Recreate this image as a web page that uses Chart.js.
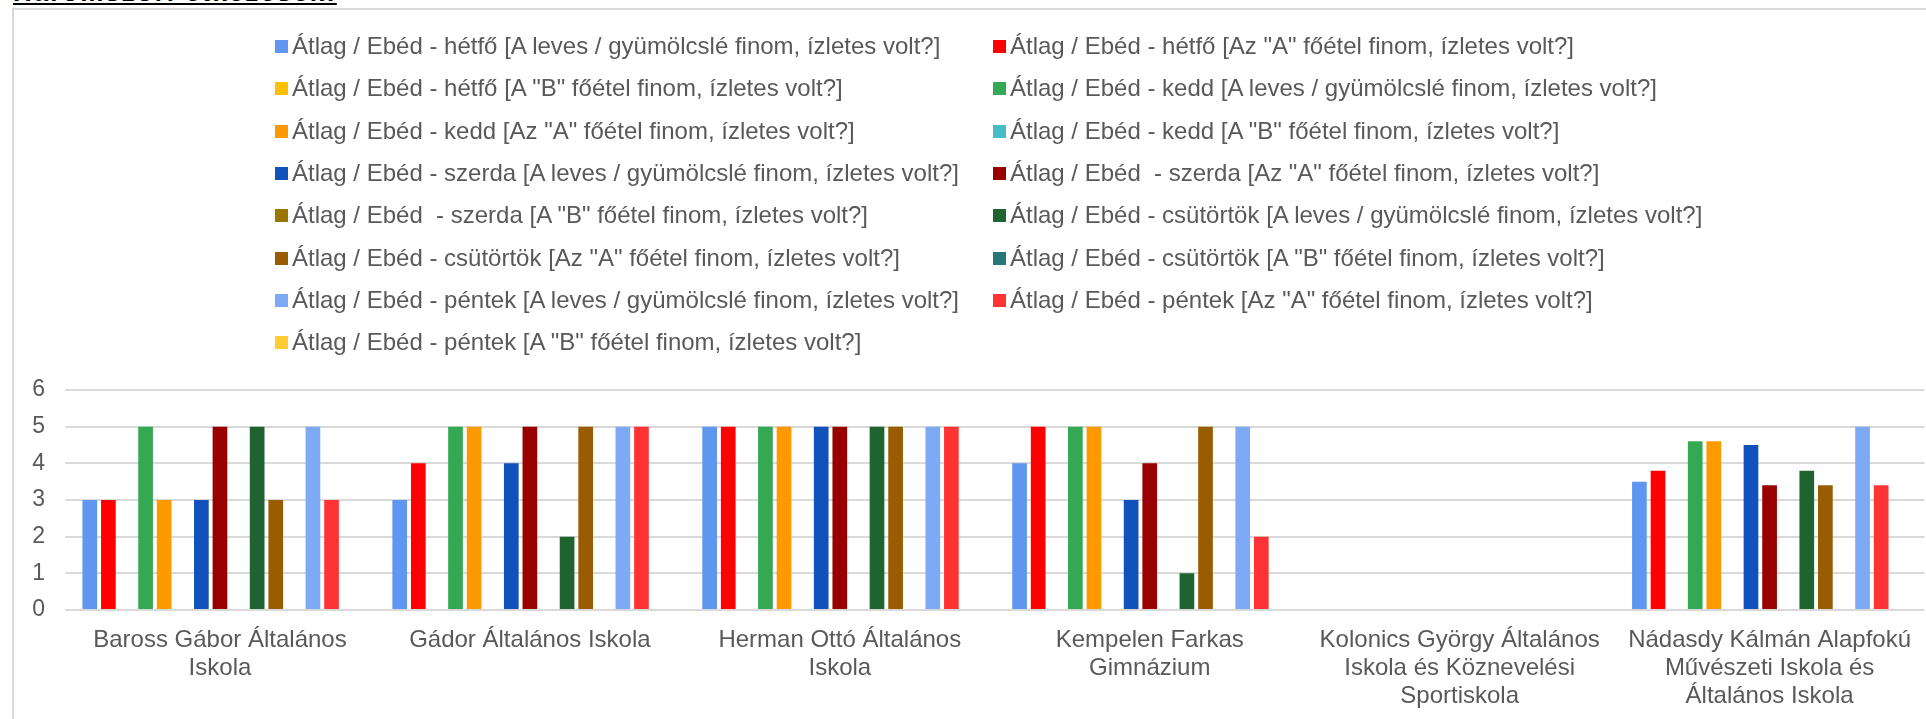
<!DOCTYPE html>
<html lang="hu">
<head>
<meta charset="utf-8">
<title>Átlag / Ebéd</title>
<script src="https://cdn.jsdelivr.net/npm/chart.js@4.4.1/dist/chart.umd.min.js"></script>
<style>
    html, body {
        margin: 0;
        padding: 0;
        width: 1926px;
        height: 719px;
        overflow: hidden;
        background: #fff;
        font-family: 'Liberation Sans', Arial, sans-serif;
    }
    #title {
        position: absolute;
        left: 13px;
        top: -23px;
        font-size: 26px;
        font-weight: bold;
        letter-spacing: 2px;
        text-decoration: underline;
        color: #000;
        white-space: nowrap;
    }
    #frame {
        position: absolute;
        left: 12px;
        top: 8px;
        width: 2000px;
        height: 800px;
        border-left: 2px solid #d9d9d9;
        border-top: 2px solid #d9d9d9;
    }
    #chartBox {
        position: absolute;
        left: 14px;
        top: 10px;
        width: 1914px;
        height: 700px;
    }
    #legend {
        position: absolute;
        left: 0;
        top: 0;
    }
    .legend-item {
        position: absolute;
        height: 30px;
        line-height: 30px;
        font-size: 24px;
        color: #595959;
        white-space: pre;
    }
    .legend-box {
        position: absolute;
        left: 0;
        top: 9px;
        width: 13px;
        height: 13px;
    }
    .legend-text {
        position: absolute;
        left: 17px;
        top: 0;
    }
</style>
</head>
<body>
<div id="title">Háromszori étkezések:</div>
<div id="frame"></div>
<div id="chartBox"><canvas id="myChart"></canvas></div>
<div id="legend"></div>

<script>
// schools (x axis)
const schools = [
    ['Baross Gábor Általános', 'Iskola'],
    ['Gádor Általános Iskola'],
    ['Herman Ottó Általános', 'Iskola'],
    ['Kempelen Farkas', 'Gimnázium'],
    ['Kolonics György Általános', 'Iskola és Köznevelési', 'Sportiskola'],
    ['Nádasdy Kálmán Alapfokú', 'Művészeti Iskola és', 'Általános Iskola']
];

const seriesNames = [
    'Átlag / Ebéd - hétfő [A leves / gyümölcslé finom, ízletes volt?]',
    'Átlag / Ebéd - hétfő [Az "A" főétel finom, ízletes volt?]',
    'Átlag / Ebéd - hétfő [A "B" főétel finom, ízletes volt?]',
    'Átlag / Ebéd - kedd [A leves / gyümölcslé finom, ízletes volt?]',
    'Átlag / Ebéd - kedd [Az "A" főétel finom, ízletes volt?]',
    'Átlag / Ebéd - kedd [A "B" főétel finom, ízletes volt?]',
    'Átlag / Ebéd - szerda [A leves / gyümölcslé finom, ízletes volt?]',
    'Átlag / Ebéd  - szerda [Az "A" főétel finom, ízletes volt?]',
    'Átlag / Ebéd  - szerda [A "B" főétel finom, ízletes volt?]',
    'Átlag / Ebéd - csütörtök [A leves / gyümölcslé finom, ízletes volt?]',
    'Átlag / Ebéd - csütörtök [Az "A" főétel finom, ízletes volt?]',
    'Átlag / Ebéd - csütörtök [A "B" főétel finom, ízletes volt?]',
    'Átlag / Ebéd - péntek [A leves / gyümölcslé finom, ízletes volt?]',
    'Átlag / Ebéd - péntek [Az "A" főétel finom, ízletes volt?]',
    'Átlag / Ebéd - péntek [A "B" főétel finom, ízletes volt?]'
];

const seriesColors = [
    '#5f96f0', '#ff0000', '#ffc000',
    '#34a853', '#ff9900', '#46bdc6',
    '#1151bb', '#990000', '#987600',
    '#1f6331', '#995c00', '#2a777a',
    '#7eaaf5', '#ff3333', '#ffcd33'
];

// one value per school, in the order of schools
const hetfoLeves     = [3, 3, 5, 4, null, 3.5];
const hetfoA         = [3, 4, 5, 5, null, 3.8];
const hetfoB         = [null, null, null, null, null, null];
const keddLeves      = [5, 5, 5, 5, null, 4.6];
const keddA          = [3, 5, 5, 5, null, 4.6];
const keddB          = [null, null, null, null, null, null];
const szerdaLeves    = [3, 4, 5, 3, null, 4.5];
const szerdaA        = [5, 5, 5, 4, null, 3.4];
const szerdaB        = [null, null, null, null, null, null];
const csutortokLeves = [5, 2, 5, 1, null, 3.8];
const csutortokA     = [3, 5, 5, 5, null, 3.4];
const csutortokB     = [null, null, null, null, null, null];
const pentekLeves    = [5, 5, 5, 5, null, 5];
const pentekA        = [3, 5, 5, 2, null, 3.4];
const pentekB        = [null, null, null, null, null, null];

const seriesValues = [
    hetfoLeves, hetfoA, hetfoB,
    keddLeves, keddA, keddB,
    szerdaLeves, szerdaA, szerdaB,
    csutortokLeves, csutortokA, csutortokB,
    pentekLeves, pentekA, pentekB
];

const yTicks = [0, 1, 2, 3, 4, 5, 6];

const textColor = '#595959';
const fontFamily = "'Liberation Sans', Arial, sans-serif";

// Build legend in two columns from the chart datasets
function buildLegend(chart) {
    const legendEl = document.getElementById('legend');
    legendEl.innerHTML = '';
    chart.data.datasets.forEach((ds, i) => {
        const col = i % 2;
        const row = Math.floor(i / 2);
        const item = document.createElement('div');
        item.className = 'legend-item';
        item.style.left = (col === 0 ? 275 : 993) + 'px';
        item.style.top = (31 + row * 42.3) + 'px';

        const box = document.createElement('span');
        box.className = 'legend-box';
        box.style.background = ds.backgroundColor;

        const text = document.createElement('span');
        text.className = 'legend-text';
        text.textContent = ds.label;

        item.appendChild(box);
        item.appendChild(text);
        legendEl.appendChild(item);
    });
}

function initializeChart(canvasId) {
    const ctx = document.getElementById(canvasId).getContext('2d');

    const datasets = seriesNames.map((name, i) => ({
        label: name,
        data: seriesValues[i],
        backgroundColor: seriesColors[i],
        borderWidth: 0,
        barPercentage: 0.79,
        categoryPercentage: 0.9
    }));

    const chart = new Chart(ctx, {
        type: 'bar',
        data: {
            labels: schools,
            datasets: datasets
        },
        options: {
            responsive: true,
            maintainAspectRatio: false,
            animation: false,
            layout: {
                padding: { top: 380, left: 0, right: 0, bottom: 0 }
            },
            plugins: {
                legend: { display: false },
                tooltip: { enabled: false }
            },
            scales: {
                x: {
                    grid: { display: false, drawTicks: false },
                    border: { display: false },
                    ticks: {
                        color: textColor,
                        font: { family: fontFamily, size: 24, lineHeight: 1.15 },
                        padding: 17,
                        maxRotation: 0,
                        autoSkip: false
                    },
                    afterFit: (scale) => { scale.height = 100; }
                },
                y: {
                    min: yTicks[0],
                    max: yTicks[yTicks.length - 1],
                    grid: { color: '#d9d9d9', lineWidth: 2, drawTicks: false },
                    border: { display: false },
                    ticks: {
                        stepSize: 1,
                        color: textColor,
                        font: { family: fontFamily, size: 23 },
                        padding: 20
                    },
                    afterFit: (scale) => { scale.width = 51; }
                }
            }
        }
    });

    buildLegend(chart);
}

initializeChart('myChart');
</script>
</body>
</html>
